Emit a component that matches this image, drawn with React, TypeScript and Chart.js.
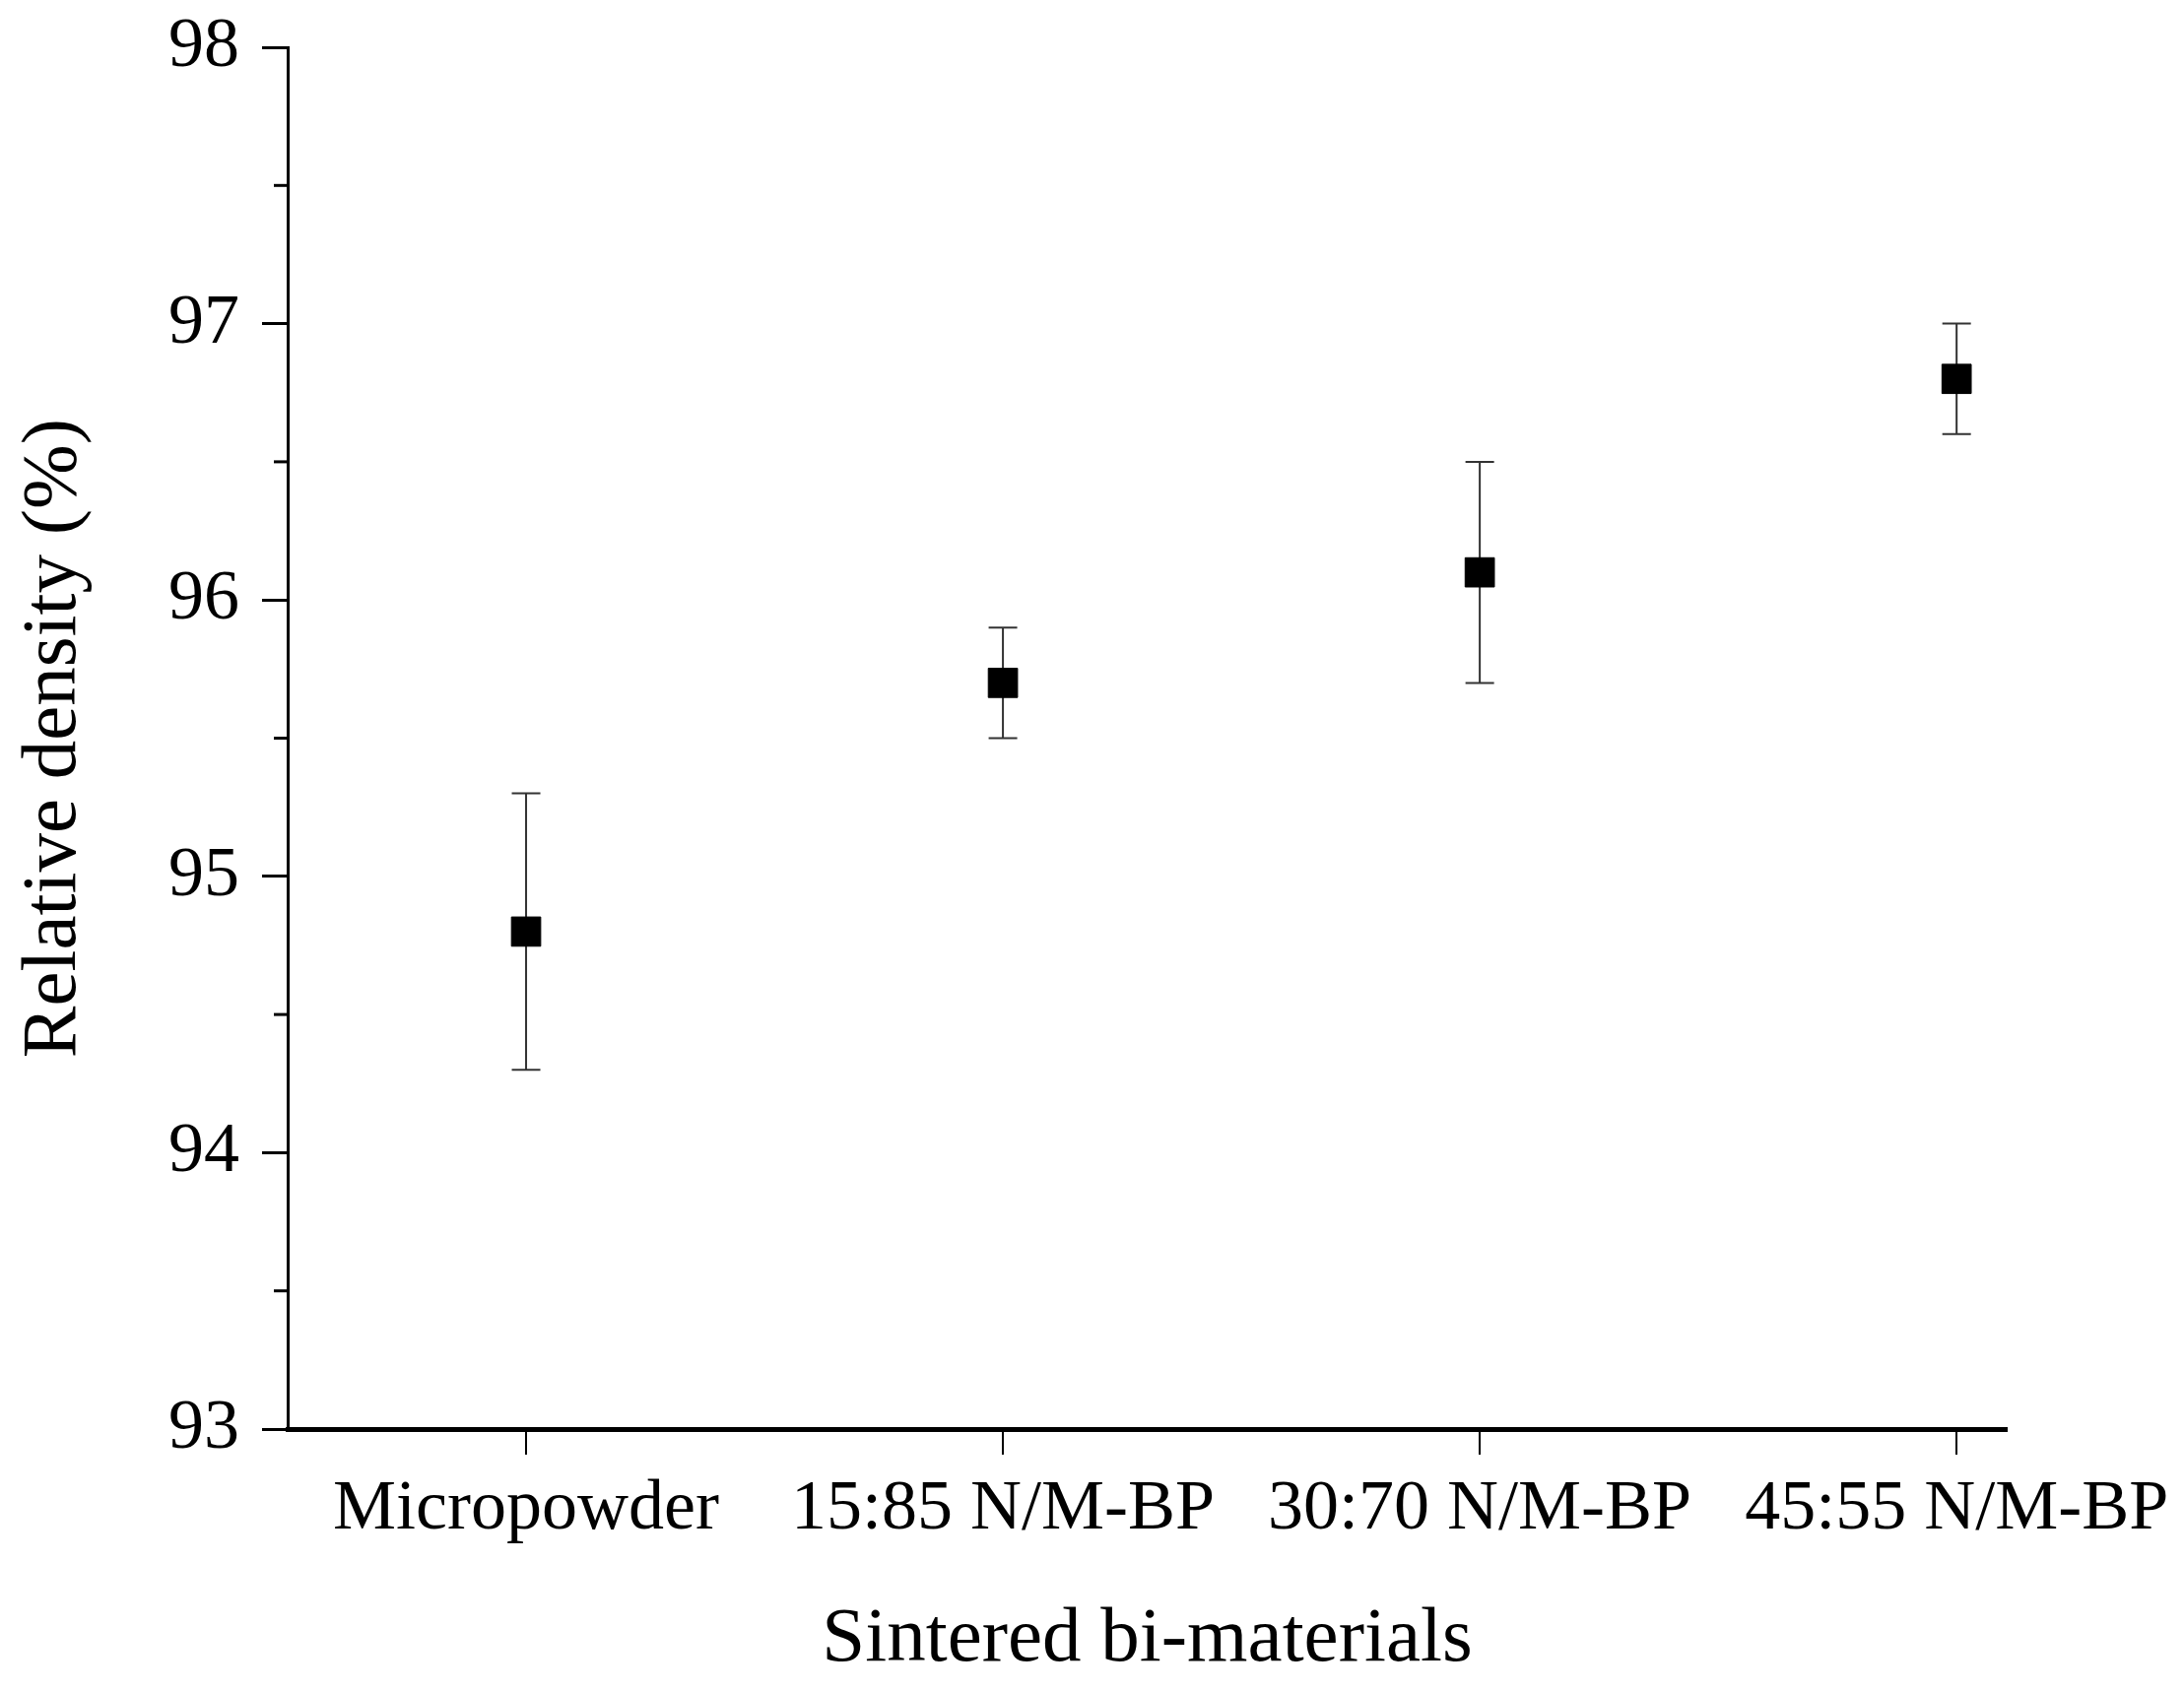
import React, { useEffect, useRef } from "react";
import { Chart, registerables } from "chart.js";

Chart.register(...registerables);

const categories = ["Micropowder", "15:85 N/M-BP", "30:70 N/M-BP", "45:55 N/M-BP"];
const density = [94.8, 95.7, 96.1, 96.8];
const densityError = [0.5, 0.2, 0.4, 0.2];
const yMin = 93;
const yMax = 98;
const yStep = 0.5;
const xTitle = "Sintered bi-materials";
const yTitle = "Relative density (%)";

const FONT = "'Liberation Serif', 'Times New Roman', serif";

const errorBarPlugin = {
  id: "errorBars",
  beforeDatasetsDraw(chart: any) {
    const ctx = chart.ctx;
    const xs = chart.scales.x;
    const ys = chart.scales.y;
    ctx.save();
    ctx.strokeStyle = "#333";
    ctx.lineWidth = 2;
    density.forEach((v, i) => {
      const x = xs.getPixelForValue(i + 1);
      const yTop = ys.getPixelForValue(v + densityError[i]);
      const yBot = ys.getPixelForValue(v - densityError[i]);
      const cap = 14.5;
      ctx.beginPath();
      ctx.moveTo(x, yTop);
      ctx.lineTo(x, yBot);
      ctx.moveTo(x - cap, yTop);
      ctx.lineTo(x + cap, yTop);
      ctx.moveTo(x - cap, yBot);
      ctx.lineTo(x + cap, yBot);
      ctx.stroke();
    });
    ctx.restore();
  },
};

const minorTickPlugin = {
  id: "minorTicks",
  afterDraw(chart: any) {
    const ctx = chart.ctx;
    const ys = chart.scales.y;
    const left = chart.chartArea.left;
    ctx.save();
    ctx.strokeStyle = "#000";
    ctx.lineWidth = 3;
    ys.ticks.forEach((t: any) => {
      if (Math.abs(t.value - Math.round(t.value)) > 1e-6) {
        const y = ys.getPixelForValue(t.value);
        ctx.beginPath();
        ctx.moveTo(left - 14, y);
        ctx.lineTo(left, y);
        ctx.stroke();
      }
    });
    ctx.restore();
  },
};

export default function App() {
  const ref = useRef<HTMLCanvasElement | null>(null);

  useEffect(() => {
    document.body.style.margin = "0";
    const canvas = ref.current;
    if (!canvas) return;
    const chart = new Chart(canvas, {
      type: "scatter",
      data: {
        datasets: [
          {
            label: "Relative density",
            data: density.map((v, i) => ({ x: i + 1, y: v })),
            pointStyle: "rect",
            pointRadius: 21,
            pointHoverRadius: 21,
            backgroundColor: "#000",
            borderColor: "#000",
            borderWidth: 1,
            showLine: false,
          },
        ],
      },
      options: {
        responsive: false,
        animation: false,
        events: [],
        layout: { padding: { top: 48, right: 180, left: 0, bottom: 0 } },
        plugins: {
          legend: { display: false },
          tooltip: { enabled: false },
        },
        scales: {
          x: {
            type: "linear",
            min: 0.5,
            max: 4.105,
            afterBuildTicks: (scale: any) => {
              scale.ticks = categories.map((_, i) => ({ value: i + 1 }));
            },
            afterFit: (scale: any) => {
              scale.height = 267;
              scale.paddingLeft = 0;
              scale.paddingRight = 0;
            },
            ticks: {
              autoSkip: false,
              maxRotation: 0,
              padding: 13,
              color: "#000",
              font: { family: FONT, size: 72 },
              callback: (v: any) => categories[Math.round(Number(v)) - 1] ?? "",
            },
            grid: {
              drawOnChartArea: false,
              drawTicks: true,
              tickLength: 26,
              tickWidth: 2,
              tickColor: "#000",
              lineWidth: 2,
              color: "#000",
            },
            border: { display: true, color: "#000", width: 5 },
            title: {
              display: true,
              text: xTitle,
              color: "#000",
              font: { family: FONT, size: 79 },
              padding: { top: 0, bottom: 5 },
            },
          },
          y: {
            type: "linear",
            min: yMin,
            max: yMax,
            afterFit: (scale: any) => {
              scale.width = 292;
              scale.paddingTop = 0;
              scale.paddingBottom = 0;
            },
            ticks: {
              stepSize: yStep,
              autoSkip: false,
              padding: 23,
              color: "#000",
              font: { family: FONT, size: 72 },
              callback: (v: any) => (Math.abs(Number(v) - Math.round(Number(v))) < 1e-6 ? String(Math.round(Number(v))) : ""),
            },
            grid: {
              drawOnChartArea: false,
              drawTicks: true,
              tickLength: 26,
              tickWidth: 3,
              lineWidth: 3,
              tickColor: (c: any) =>
                Math.abs(c.tick.value - Math.round(c.tick.value)) < 1e-6 ? "#000" : "rgba(0,0,0,0)",
              color: "rgba(0,0,0,0)",
            },
            border: { display: true, color: "#000", width: 3 },
            title: {
              display: true,
              text: yTitle,
              color: "#000",
              font: { family: FONT, size: 79 },
              padding: { top: 8, bottom: 0 },
            },
          },
        },
      },
      plugins: [errorBarPlugin, minorTickPlugin],
    } as any);
    return () => chart.destroy();
  }, []);

  return (
    <div style={{ width: 2217, height: 1718, background: "#fff" }}>
      <canvas ref={ref} width={2217} height={1718} style={{ display: "block" }} />
    </div>
  );
}
